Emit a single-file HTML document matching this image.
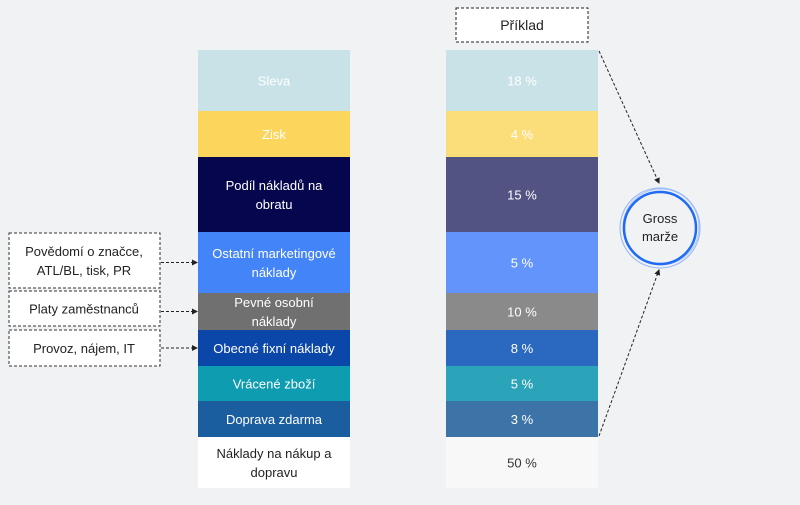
<!DOCTYPE html>
<html><head><meta charset="utf-8"><style>
body{margin:0;width:800px;height:500px;background:#f1f2f4;font-family:"Liberation Sans",sans-serif;overflow:hidden}
</style></head><body>
<svg width="800" height="500">
<defs><marker id="ah" markerWidth="6" markerHeight="6" refX="5" refY="3" orient="auto"><path d="M0,0 L6,3 L0,6z" fill="#222"/></marker></defs>
<g id="left"></g>
<g id="right"></g>
<g id="notes"></g>
<rect x="456" y="8" width="132" height="34" fill="#fff" stroke="#222" stroke-dasharray="3,2"/>
<text x="522" y="30" text-anchor="middle" font-size="14" fill="#222">Příklad</text>
<line x1="599" y1="51" x2="659" y2="183" stroke="#222" stroke-dasharray="3,2" marker-end="url(#ah)"/>
<line x1="599" y1="436" x2="659" y2="270" stroke="#222" stroke-dasharray="3,2" marker-end="url(#ah)"/>
<g>
<circle cx="660" cy="228" r="40" fill="none" stroke="#8fb4fb" stroke-width="1"/>
<circle cx="661" cy="227" r="38" fill="none" stroke="#a6c3fb" stroke-width="1"/>
<circle cx="660" cy="228" r="36" fill="none" stroke="#1f6bf5" stroke-width="2.5"/>
<text x="660" y="223" text-anchor="middle" font-size="13" fill="#222">Gross</text>
<text x="660" y="241" text-anchor="middle" font-size="13" fill="#222">marže</text>
</g>
</svg>
<script>
const categories=["Sleva","Zisk","Podíl nákladů na|obratu","Ostatní marketingové|náklady","Pevné osobní|náklady","Obecné fixní náklady","Vrácené zboží","Doprava zdarma","Náklady na nákup a|dopravu"];
const values=[18,4,15,5,10,8,5,3,50];
const noteLabels=["Povědomí o značce,|ATL/BL, tisk, PR","Platy zaměstnanců","Provoz, nájem, IT"];
const noteTargets=[3,4,5];
const bounds=[50,111,157,232,293,330,366,401,437,488];
const leftColors=["#c9e2e7","#fcd55c","#06064f","#4385f9","#707070","#0b47a8","#0e9cb0","#1a5ea0","#ffffff"];
const rightColors=["#c9e2e7","#fbdd7a","#535383","#6294fb","#8a8a8a","#2b68bf","#2ba3b8","#3d74a8","#f8f8f8"];
const NS="http://www.w3.org/2000/svg";
function mk(t,a,p){const e=document.createElementNS(NS,t);for(const k in a)e.setAttribute(k,a[k]);p.appendChild(e);return e;}
function txt(p,x,yc,s,fill,size){const lines=s.split("|");const lh=19;lines.forEach((l,i)=>{const t=mk("text",{x:x,y:yc+(i-(lines.length-1)/2)*lh+5,"text-anchor":"middle","font-size":size,fill:fill},p);t.textContent=l;});}
const L=document.getElementById("left"),R=document.getElementById("right"),N=document.getElementById("notes");
categories.forEach((c,i)=>{
 const y=bounds[i],h=bounds[i+1]-bounds[i],last=i===categories.length-1;
 const g=mk("g",{},L);
 
 
 mk("rect",{x:198,y:y,width:152,height:h,fill:leftColors[i]},g);
 txt(g,274,y+h/2,c,last?"#222":"#fff",13);
 const g2=mk("g",{},R);
 
 
 mk("rect",{x:446,y:y,width:152,height:h,fill:rightColors[i]},g2);
 txt(g2,522,y+h/2,values[i]+" %",last?"#333":"#fff",13);
});
const noteBoxes=[[233,55],[291,35],[330,36]];
noteLabels.forEach((s,i)=>{
 const [y,h]=noteBoxes[i];const g=mk("g",{},N);
 
 
 mk("rect",{x:9,y:y,width:151,height:h,fill:"#fff",stroke:"#333","stroke-dasharray":"3,2"},g);
 txt(g,84,y+h/2,s,"#222",13);
 const t=noteTargets[i],ty=(bounds[t]+bounds[t+1])/2;
 mk("line",{x1:161,y1:ty,x2:197,y2:ty,stroke:"#222","stroke-dasharray":"3,2","marker-end":"url(#ah)"},g);
});
</script>
</body></html>
